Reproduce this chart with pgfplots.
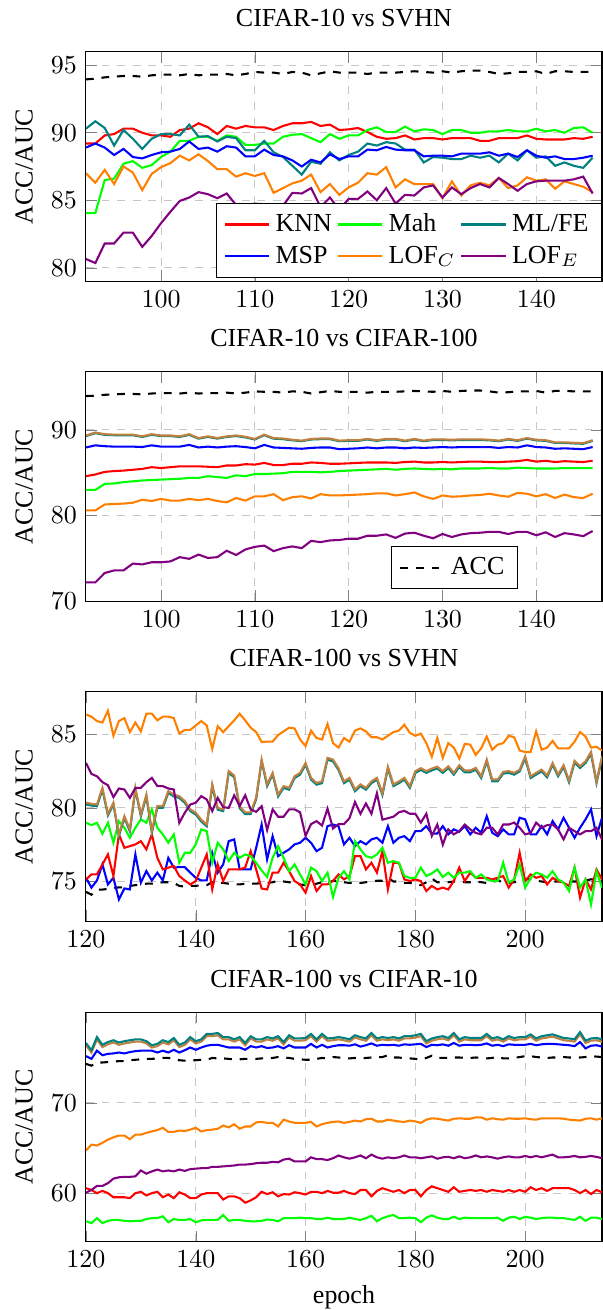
\documentclass[border=0pt]{standalone}
\usepackage{fontspec}
\setmainfont{Liberation Serif}
\usepackage{pgfplots}
\usepackage{pgfplotstable}
\pgfplotsset{compat=1.18}

% CIFAR-10 vs SVHN
\pgfplotstableread{
e acc knn mah mlfe msp lofc lofe
92 93.95 89.2 84.05 90.3 88.9 87.0 80.65
93 94.0 89.2 84.05 90.85 89.2 86.3 80.35
94 94.1 89.8 86.5 90.35 88.9 87.25 81.8
95 94.15 89.9 86.6 89.05 88.35 86.2 81.8
96 94.2 90.3 87.7 90.2 88.8 87.5 82.6
97 94.2 90.3 87.9 89.55 88.2 87.05 82.6
98 94.15 90.0 87.4 88.8 88.1 85.75 81.55
99 94.25 89.8 87.6 89.55 88.35 86.95 82.35
100 94.3 89.8 88.2 89.9 88.55 87.45 83.3
101 94.3 89.7 88.6 89.9 88.6 87.75 84.15
102 94.25 90.2 89.4 89.8 88.8 88.3 84.95
103 94.35 90.3 89.4 90.6 89.35 87.95 85.2
104 94.25 90.7 89.7 89.7 88.8 88.4 85.6
105 94.3 90.4 89.7 89.75 88.9 87.9 85.45
106 94.3 89.9 89.4 89.35 88.6 87.3 85.15
107 94.35 90.5 89.8 89.7 89.0 87.3 85.5
108 94.25 90.3 89.7 89.6 88.9 86.75 84.65
109 94.35 90.5 89.1 88.7 88.25 87.0 84.6
110 94.5 90.4 89.1 88.7 88.25 86.8 84.75
111 94.45 90.4 89.2 89.4 88.75 87.0 84.7
112 94.45 90.2 89.2 88.55 88.35 85.55 84.0
113 94.35 90.5 89.7 88.2 88.25 85.9 84.6
114 94.5 90.7 89.85 87.55 87.95 86.25 85.55
115 94.45 90.7 89.9 86.9 87.5 86.45 85.5
116 94.25 90.8 89.6 87.85 88.0 86.9 85.9
117 94.4 90.5 89.3 87.7 87.8 85.6 84.5
118 94.55 90.6 89.9 88.55 88.4 86.2 85.2
119 94.45 90.2 89.55 87.95 88.05 85.4 84.3
120 94.45 90.25 89.8 88.35 88.25 85.95 85.1
121 94.45 90.35 89.8 88.6 88.25 86.3 85.1
122 94.35 90.05 90.2 89.2 88.75 87.0 85.65
123 94.45 89.7 90.4 89.05 88.7 86.9 85.0
124 94.45 89.55 90.05 89.3 88.95 87.45 85.9
125 94.45 89.6 90.05 89.2 88.75 85.95 84.75
126 94.5 89.8 90.45 88.75 88.7 86.55 85.4
127 94.55 89.5 90.1 88.75 88.7 86.2 85.35
128 94.5 89.6 90.25 87.8 88.25 86.2 85.95
129 94.45 89.6 90.2 88.2 88.3 86.2 86.1
130 94.55 89.5 89.9 88.15 88.3 85.15 85.2
131 94.45 89.6 90.2 88.05 88.25 86.4 85.95
132 94.55 89.6 90.2 88.05 88.45 85.35 85.45
133 94.6 89.6 90.0 88.3 88.45 86.1 85.9
134 94.6 89.4 90.0 88.15 88.45 86.3 86.2
135 94.5 89.4 90.1 88.3 88.55 86.1 85.95
136 94.35 89.6 90.1 87.8 88.3 86.65 86.65
137 94.4 89.6 90.2 88.45 88.45 85.9 86.2
138 94.5 89.6 90.1 87.95 88.2 86.1 85.7
139 94.5 89.8 90.1 88.7 88.7 86.7 86.2
140 94.55 89.55 90.3 88.15 88.3 86.45 86.4
141 94.35 89.5 90.1 88.25 88.15 86.55 86.45
142 94.55 89.5 90.2 87.55 88.25 85.85 86.45
143 94.55 89.5 90.0 87.8 88.05 86.4 86.45
144 94.5 89.6 90.35 87.55 88.05 86.2 86.55
145 94.5 89.55 90.4 87.4 88.15 86.0 86.75
146 94.5 89.7 90.0 88.15 88.3 85.6 85.5
}\tabA

% CIFAR-10 vs CIFAR-100
\pgfplotstableread{
e acc knn mah mlfe fe msp lofc lofe
92 93.95 84.6 83.0 89.28 89.34 87.95 80.6 72.2
93 94.0 84.8 83.0 89.62 89.7 88.2 80.6 72.2
94 94.1 85.1 83.7 89.42 89.5 88.1 81.3 73.3
95 94.15 85.2 83.75 89.38 89.45 88.05 81.35 73.6
96 94.2 85.25 83.9 89.38 89.45 88.05 81.4 73.6
97 94.2 85.35 84.0 89.38 89.45 88.05 81.5 74.4
98 94.15 85.45 84.1 89.18 89.25 88.0 81.85 74.3
99 94.25 85.65 84.15 89.42 89.5 88.2 81.7 74.55
100 94.3 85.55 84.2 89.28 89.35 88.05 81.95 74.55
101 94.3 85.65 84.25 89.28 89.35 88.05 81.75 74.65
102 94.25 85.75 84.3 89.18 89.25 88.05 81.75 75.15
103 94.35 85.75 84.4 89.42 89.5 88.25 81.95 74.95
104 94.25 85.75 84.4 88.98 89.05 87.95 81.8 75.45
105 94.3 85.7 84.6 89.18 89.25 88.05 81.95 75.05
106 94.3 85.65 84.5 88.98 89.05 87.95 81.7 75.15
107 94.35 85.85 84.4 89.18 89.25 88.05 81.55 75.9
108 94.25 85.85 84.7 89.28 89.35 88.1 82.05 75.4
109 94.35 86.0 84.6 89.12 89.2 88.0 81.75 76.05
110 94.5 85.95 84.85 88.88 88.95 87.85 82.25 76.35
111 94.45 86.15 84.85 89.38 89.45 88.25 82.25 76.5
112 94.45 85.9 84.9 88.98 89.05 87.95 82.5 75.85
113 94.35 85.9 84.95 88.92 89.0 87.9 81.8 76.2
114 94.5 86.05 85.1 88.78 88.85 87.85 82.15 76.4
115 94.45 86.05 85.1 88.68 88.75 87.8 82.25 76.2
116 94.25 86.2 85.1 88.88 88.95 87.9 82.0 77.05
117 94.4 86.15 85.05 88.92 89.0 87.95 82.5 76.9
118 94.55 86.05 85.1 88.92 89.0 87.95 82.35 77.1
119 94.45 86.05 85.2 88.68 88.75 87.75 82.35 77.15
120 94.45 86.1 85.25 88.72 88.8 87.8 82.4 77.3
121 94.45 86.15 85.3 88.72 88.8 87.85 82.45 77.3
122 94.35 86.2 85.35 88.88 88.95 87.95 82.5 77.65
123 94.45 86.2 85.4 88.72 88.8 87.85 82.6 77.65
124 94.45 86.2 85.45 88.88 88.95 87.95 82.6 77.8
125 94.45 86.15 85.35 88.88 88.95 87.95 82.35 77.4
126 94.5 86.25 85.45 88.68 88.75 87.85 82.5 77.9
127 94.55 86.3 85.5 88.88 88.95 87.95 82.7 78.0
128 94.5 86.2 85.45 88.68 88.75 87.9 82.25 77.65
129 94.45 86.2 85.4 88.82 88.9 87.95 81.95 77.35
130 94.55 86.25 85.45 88.82 88.9 88.0 82.35 77.85
131 94.45 86.2 85.4 88.78 88.85 87.95 82.2 77.5
132 94.55 86.25 85.5 88.82 88.9 88.0 82.25 77.8
133 94.6 86.3 85.5 88.82 88.9 88.0 82.35 77.95
134 94.6 86.3 85.5 88.82 88.9 88.0 82.4 78.0
135 94.5 86.25 85.55 88.78 88.85 88.0 82.55 78.1
136 94.35 86.25 85.5 88.68 88.75 87.9 82.35 78.1
137 94.4 86.3 85.5 88.88 88.95 88.0 82.2 77.85
138 94.5 86.35 85.6 88.72 88.8 87.95 82.65 78.1
139 94.5 86.5 85.55 88.98 89.05 88.2 82.55 78.1
140 94.55 86.3 85.5 88.78 88.85 88.0 82.25 77.7
141 94.35 86.4 85.5 88.72 88.8 87.95 82.5 78.05
142 94.55 86.25 85.5 88.48 88.55 87.8 82.05 77.5
143 94.55 86.35 85.55 88.48 88.55 87.85 82.45 77.95
144 94.5 86.3 85.55 88.42 88.5 87.8 82.15 77.8
145 94.5 86.25 85.55 88.38 88.45 87.75 82.05 77.6
146 94.5 86.4 85.55 88.72 88.8 88.0 82.55 78.2
}\tabB

% CIFAR-100 vs SVHN
\pgfplotstableread{
e acc knn mah mlfe fe msp lofc lofe
120 74.3 75.14 78.99 80.23 80.35 75.25 86.35 83.06
121 74.1 75.48 78.83 80.16 80.28 74.58 86.2 82.31
122 74.45 75.48 78.99 80.11 80.23 75.07 85.9 82.15
123 74.45 76.16 78.24 81.24 81.36 76.16 85.8 81.75
124 74.5 76.84 78.99 79.48 79.6 74.8 86.6 81.54
125 74.55 75.37 77.63 80.23 80.35 75.25 84.9 80.73
126 74.6 78.2 79.1 78.08 78.2 73.78 85.9 81.32
127 74.6 77.29 78.65 79.32 79.44 74.53 86.1 81.25
128 74.7 77.4 77.97 78.41 78.53 74.46 85.15 80.68
129 74.75 77.52 78.65 81.24 81.36 76.84 85.8 81.36
130 74.8 77.74 79.22 79.43 79.55 74.92 85.2 81.36
131 74.85 77.18 78.99 80.78 80.9 75.71 86.4 81.75
132 74.85 78.2 79.9 78.3 78.42 75.07 86.4 82.04
133 74.9 76.61 78.65 80.0 80.12 75.6 85.95 81.48
134 74.95 75.82 78.2 80.0 80.12 75.07 86.2 81.48
135 74.95 75.94 77.63 81.02 81.14 76.6 86.2 81.32
136 74.9 76.05 78.2 80.78 80.9 75.94 86.1 81.25
137 74.7 75.37 76.27 80.68 80.8 75.98 85.05 78.98
138 74.65 75.07 76.95 80.34 80.46 75.98 85.3 79.67
139 74.7 74.8 76.95 79.78 79.9 75.6 85.3 80.23
140 74.7 75.03 77.52 79.55 79.67 75.25 85.6 80.35
141 74.75 75.94 78.54 79.08 79.2 75.07 85.9 80.8
142 74.75 76.84 78.42 78.75 78.87 75.07 85.6 80.57
143 74.95 74.46 76.27 81.48 81.6 76.95 84.0 79.78
144 74.9 76.16 77.63 79.88 80.0 75.6 85.55 80.68
145 74.9 75.03 77.18 79.78 79.9 76.16 85.15 80.05
146 74.85 75.82 76.39 82.38 82.5 77.74 85.55 80.0
147 74.8 75.82 76.95 82.08 82.2 77.86 85.95 80.86
148 74.8 75.82 76.61 79.98 80.1 75.82 86.4 80.12
149 74.85 75.95 76.84 79.58 79.7 75.82 85.95 80.86
150 74.85 77.06 76.72 79.58 79.7 75.82 85.45 79.9
151 74.85 75.82 76.27 80.58 80.7 77.28 85.15 79.73
152 74.9 74.52 75.75 83.16 83.28 78.87 84.48 80.12
153 74.9 74.46 75.3 81.48 81.6 76.5 84.5 78.5
154 74.95 75.6 76.61 82.26 82.38 78.08 84.5 79.9
155 75.05 75.6 77.4 80.78 80.9 76.72 84.95 79.4
156 75.0 76.27 76.61 81.36 81.48 76.95 85.2 79.4
157 74.95 75.7 75.7 81.24 81.36 77.18 85.45 79.9
158 74.85 75.03 76.16 82.03 82.15 77.52 85.4 79.9
159 74.8 74.8 75.48 82.26 82.38 77.63 84.65 79.7
160 74.75 74.24 74.8 82.93 83.05 77.97 84.2 78.1
161 74.75 75.37 75.94 81.92 82.04 77.63 85.25 78.9
162 74.85 74.35 75.7 81.58 81.7 77.06 84.75 79.1
163 74.95 74.8 75.03 81.68 81.8 77.29 84.65 78.8
164 74.9 74.8 75.6 83.28 83.4 78.76 85.7 79.95
165 75.05 75.03 73.95 83.16 83.28 78.87 84.4 78.6
166 75.0 75.48 75.25 82.58 82.7 78.76 84.1 78.9
167 74.95 75.14 75.7 81.68 81.8 77.52 84.75 78.9
168 74.9 75.37 75.14 81.92 82.04 77.97 84.5 79.3
169 74.95 76.72 77.74 81.13 81.25 77.4 85.25 80.4
170 74.9 76.72 77.18 81.48 81.6 77.74 85.4 79.6
171 74.95 75.82 76.72 81.24 81.36 77.52 85.2 80.3
172 75.0 76.27 76.61 81.68 81.8 77.86 84.8 79.6
173 75.05 75.6 76.84 81.92 82.04 77.97 84.8 81.0
174 75.05 77.06 77.29 80.88 81.0 77.63 84.65 79.2
175 75.25 74.46 76.27 82.68 82.8 78.76 84.9 79.3
176 75.0 76.27 76.39 81.48 81.6 77.63 85.15 79.4
177 75.0 76.27 76.27 81.68 81.8 77.97 85.25 79.7
178 74.9 75.14 75.37 81.92 82.04 78.08 85.65 79.8
179 74.9 75.03 75.25 81.36 81.48 77.74 85.1 79.6
180 74.85 75.14 75.25 82.38 82.5 78.42 84.9 79.6
181 74.75 75.03 75.94 82.58 82.7 78.42 85.05 79.0
182 74.95 74.35 75.37 82.38 82.5 78.76 84.4 79.6
183 75.2 74.7 75.55 82.55 82.67 78.25 83.48 78.1
184 74.95 74.46 75.82 82.68 82.8 78.26 84.75 78.87
185 74.95 74.58 75.3 82.38 82.5 78.76 83.4 77.5
186 74.95 74.46 75.6 82.71 82.83 78.2 84.4 78.54
187 75.0 75.03 75.25 82.26 82.38 78.54 84.1 78.2
188 75.0 75.94 75.6 82.78 82.9 78.38 83.35 78.42
189 74.95 75.03 75.6 82.42 82.54 78.76 84.35 78.87
190 74.95 75.6 75.7 82.42 82.54 78.2 84.3 78.54
191 75.0 75.25 75.25 82.6 82.72 78.65 83.6 78.3
192 74.95 75.25 75.48 82.03 82.15 78.31 84.05 78.2
193 74.9 75.25 75.14 83.16 83.28 79.44 84.85 78.65
194 74.95 75.14 75.03 81.81 81.93 78.31 83.95 78.65
195 75.1 75.25 75.03 81.81 81.93 78.08 84.3 78.2
196 74.9 75.37 76.27 82.33 82.45 78.54 84.4 78.87
197 74.9 74.58 74.92 82.38 82.5 78.2 84.9 78.87
198 74.95 75.14 75.14 82.26 82.38 78.2 84.8 79.0
199 75.05 76.95 76.16 82.48 82.6 79.33 83.9 78.65
200 75.15 75.03 74.58 83.38 83.5 79.22 83.8 78.2
201 75.15 75.48 75.25 82.03 82.15 78.2 83.8 78.3
202 75.05 75.25 75.6 82.26 82.38 78.2 85.2 79.0
203 75.0 75.37 75.48 82.48 82.6 78.76 83.95 78.65
204 74.95 74.8 75.25 82.08 82.2 78.2 84.1 78.83
205 75.0 75.25 75.7 82.93 83.05 79.1 84.55 78.87
206 75.0 75.03 75.14 82.15 82.27 78.54 84.05 78.54
207 75.05 74.92 74.92 82.78 82.9 79.33 84.05 77.86
208 75.0 74.69 74.35 81.74 81.86 78.65 84.05 78.65
209 75.0 75.94 75.94 83.08 83.2 77.97 84.5 78.42
210 75.0 73.9 74.58 82.71 82.83 78.65 85.15 78.2
211 75.05 75.14 75.14 83.05 83.17 79.22 84.85 78.42
212 75.15 74.46 73.44 83.68 83.8 79.9 84.1 78.42
213 75.1 75.82 75.7 81.68 81.8 78.08 84.15 78.65
214 75.05 75.14 74.58 83.38 83.5 79.33 83.9 77.86
}\tabC

% CIFAR-100 vs CIFAR-10
\pgfplotstableread{
e acc knn mah mlfe fe msp lofc lofe
120 74.3 60.6 56.95 76.6 76.35 75.15 64.75 60.1
121 74.1 60.4 56.75 75.8 75.55 74.85 65.4 60.4
122 74.45 60.05 57.3 77.25 77.0 75.75 65.3 60.85
123 74.45 60.3 56.75 76.4 76.15 75.25 65.6 60.85
124 74.5 60.05 57.0 76.7 76.45 75.4 65.95 61.15
125 74.55 59.6 57.1 76.9 76.65 75.45 66.2 61.65
126 74.6 59.6 57.1 76.65 76.4 75.55 66.4 61.8
127 74.6 59.6 57.0 76.8 76.55 75.45 66.4 61.85
128 74.7 59.5 56.95 76.9 76.65 75.6 66.0 61.85
129 74.75 60.05 57.0 77.0 76.75 75.7 66.5 61.9
130 74.8 60.2 57.0 77.0 76.75 75.75 66.5 62.55
131 74.85 59.8 57.2 76.8 76.55 75.75 66.7 62.2
132 74.85 60.05 57.3 76.35 76.1 75.75 66.85 62.45
133 74.9 60.2 57.3 76.5 76.25 75.55 67.0 62.65
134 74.95 59.6 57.5 76.9 76.65 75.75 67.25 62.45
135 74.95 59.9 56.85 76.7 76.45 75.55 66.8 62.55
136 74.9 59.5 57.2 77.15 76.9 75.85 66.8 62.45
137 74.7 60.15 57.1 76.4 76.15 75.55 66.95 62.65
138 74.65 59.9 57.1 76.65 76.4 75.8 66.9 62.5
139 74.7 59.5 57.2 77.25 77.0 76.1 67.05 62.7
140 74.7 59.5 56.85 76.8 76.55 75.85 67.25 62.75
141 74.75 59.9 57.05 77.0 76.75 76.1 66.85 62.8
142 74.75 60.05 57.1 77.6 77.35 76.3 67.0 62.8
143 74.95 60.05 57.1 77.6 77.35 76.4 67.05 62.95
144 74.9 60.05 57.1 77.7 77.45 76.4 67.15 62.95
145 74.9 59.35 57.65 77.25 77.0 76.25 67.5 63.0
146 74.85 59.7 57.0 77.25 77.0 76.1 67.3 63.05
147 74.8 59.7 57.1 77.0 76.75 76.1 67.65 63.1
148 74.8 59.5 57.1 77.25 77.0 76.1 67.15 63.2
149 74.85 59.0 57.0 76.6 76.35 75.85 67.4 63.2
150 74.85 59.25 56.95 77.35 77.1 76.25 67.4 63.25
151 74.85 59.6 56.95 77.0 76.75 76.1 67.85 63.35
152 74.9 60.2 57.0 77.0 76.75 76.25 67.9 63.4
153 74.9 59.95 57.15 77.25 77.0 76.05 67.8 63.4
154 74.95 60.15 57.1 77.1 76.85 76.1 67.8 63.5
155 75.05 59.7 56.95 77.35 77.1 76.25 67.4 63.45
156 75.0 59.95 57.3 76.7 76.45 76.0 68.15 63.75
157 74.95 59.9 57.3 77.45 77.2 76.35 67.95 63.85
158 74.85 60.15 57.3 77.1 76.85 76.1 67.8 63.55
159 74.8 60.05 57.35 77.1 76.85 76.1 67.8 63.55
160 74.75 59.9 57.3 77.15 76.9 76.1 67.8 63.55
161 74.75 60.2 57.3 77.6 77.35 76.5 67.9 64.0
162 74.85 60.2 57.2 77.0 76.75 76.1 67.4 63.8
163 74.95 60.05 57.2 77.6 77.35 76.4 67.65 63.8
164 74.9 60.3 57.35 77.1 76.85 76.1 67.8 63.7
165 75.05 60.1 57.2 77.15 76.9 76.25 67.9 63.9
166 75.0 60.1 57.2 77.25 77.0 76.35 67.95 64.2
167 74.95 60.3 57.2 77.15 76.9 76.35 67.8 64.0
168 74.9 60.05 57.35 77.0 76.75 76.3 67.9 63.85
169 74.95 59.95 57.2 77.45 77.2 76.45 68.05 64.0
170 74.9 60.4 57.1 77.25 77.0 76.2 67.95 64.2
171 74.95 60.4 57.3 77.1 76.85 76.35 68.2 63.9
172 75.0 59.7 57.55 77.7 77.45 76.55 68.25 64.3
173 75.05 60.3 56.95 77.1 76.85 76.3 67.95 64.0
174 75.05 60.6 57.3 77.25 77.0 76.4 67.95 63.85
175 75.25 60.4 57.5 77.15 76.9 76.35 68.15 64.0
176 75.0 60.2 57.65 77.25 77.0 76.4 68.05 63.9
177 75.0 60.4 57.3 77.1 76.85 76.3 67.95 64.0
178 74.9 60.05 57.3 77.35 77.1 76.45 67.9 64.2
179 74.9 60.4 57.35 77.35 77.1 76.4 68.05 64.0
180 74.85 60.4 57.3 77.45 77.2 76.45 67.95 64.0
181 74.75 59.7 56.85 77.6 77.35 76.5 67.8 63.9
182 74.95 60.4 57.35 76.8 76.55 76.15 68.15 64.0
183 75.2 60.8 57.6 77.1 76.85 76.4 68.3 64.1
184 74.95 60.6 57.35 77.25 77.0 76.35 68.25 63.85
185 74.95 60.4 57.2 77.35 77.1 76.45 68.15 64.0
186 74.95 60.2 57.2 77.15 76.9 76.3 68.05 64.05
187 75.0 60.7 57.45 77.7 77.45 76.6 68.25 63.9
188 75.0 60.2 57.2 77.0 76.75 76.3 68.3 64.1
189 74.95 60.3 57.35 77.25 77.0 76.4 68.25 63.9
190 74.95 60.4 57.3 77.15 76.9 76.4 68.25 64.0
191 75.0 60.3 57.3 77.15 76.9 76.35 68.4 64.2
192 74.95 60.4 57.3 77.15 76.9 76.4 68.4 64.0
193 74.9 60.2 57.3 77.6 77.35 76.55 68.15 64.1
194 74.95 60.4 57.3 77.1 76.85 76.3 68.3 64.0
195 75.1 60.3 57.35 77.25 77.0 76.4 68.2 63.85
196 74.9 60.2 57.0 77.0 76.75 76.25 68.15 64.0
197 74.9 60.4 57.35 77.35 77.1 76.45 68.3 64.1
198 74.95 60.2 57.45 77.15 76.9 76.4 68.25 64.0
199 75.05 60.4 57.2 77.25 77.0 76.4 68.25 64.0
200 75.15 60.2 57.45 77.25 77.0 76.4 68.3 64.15
201 75.15 60.7 57.35 77.55 77.3 76.5 68.2 64.0
202 75.05 60.4 57.2 77.1 76.85 76.35 68.15 64.15
203 75.0 60.6 57.3 77.35 77.1 76.45 68.3 64.0
204 74.95 60.3 57.35 77.45 77.2 76.5 68.3 64.15
205 75.0 60.6 57.35 77.55 77.3 76.5 68.3 64.3
206 75.0 60.6 57.3 77.35 77.1 76.45 68.3 64.0
207 75.05 60.6 57.3 77.15 76.9 76.4 68.25 64.0
208 75.0 60.6 57.2 77.1 76.85 76.35 68.15 64.05
209 75.0 60.4 57.1 77.0 76.75 76.25 68.1 64.15
210 75.0 60.05 57.45 77.8 77.55 76.7 68.05 64.0
211 75.05 60.4 57.0 76.85 76.6 76.0 68.25 64.05
212 75.15 59.95 57.35 77.1 76.85 76.3 68.3 64.15
213 75.1 60.4 57.35 77.15 76.9 76.35 68.15 64.05
214 75.05 60.15 57.2 77.0 76.75 76.2 68.3 63.9
}\tabD

\pgfplotsset{
  epochpanel/.style={
    width=198.7pt, height=88.4pt, scale only axis,
    anchor=north west,
    grid=major,
    major grid style={dashed, black!22},
    ylabel={ACC/AUC},
    every axis plot/.append style={thick, no markers},
    legend cell align=left,
  },
}

\begin{document}
\begin{tikzpicture}
\path[use as bounding box] (0pt,0pt) rectangle (231.8pt,-504.4pt);

% ---- CIFAR-10 vs SVHN -------------------------------------------
\begin{axis}[epochpanel, at={(33.1pt,-19.9pt)},
  title={CIFAR-10 vs SVHN},
  xmin=92, xmax=147, ymin=79, ymax=96,
  xtick={100,110,120,130,140}, ytick={80,85,90,95},
  legend columns=3,
  legend style={at={(1,0.015)}, anchor=south east,
    /tikz/every even column/.append style={column sep=0pt}}]
\addplot[black, dashed, forget plot] table[x=e, y=acc] {\tabA};
\addplot[red] table[x=e, y=knn] {\tabA};
\addplot[green] table[x=e, y=mah] {\tabA};
\addplot[teal] table[x=e, y=mlfe] {\tabA};
\addplot[blue] table[x=e, y=msp] {\tabA};
\addplot[orange] table[x=e, y=lofc] {\tabA};
\addplot[violet] table[x=e, y=lofe] {\tabA};
\legend{KNN, Mah, ML/FE, MSP, LOF$_C$, LOF$_E$}
\end{axis}

% ---- CIFAR-10 vs CIFAR-100 --------------------------------------
\begin{axis}[epochpanel, at={(33.1pt,-143.1pt)},
  title={CIFAR-10 vs CIFAR-100},
  xmin=92, xmax=147, ymin=70, ymax=96.8,
  xtick={100,110,120,130,140}, ytick={70,80,90},
  legend style={at={(0.837,0.052)}, anchor=south east}]
\addplot[black, dashed] table[x=e, y=acc] {\tabB};
\addlegendentry{ACC}
\addplot[red] table[x=e, y=knn] {\tabB};
\addplot[green] table[x=e, y=mah] {\tabB};
\addplot[teal] table[x=e, y=mlfe] {\tabB};
\addplot[brown] table[x=e, y=fe] {\tabB};
\addplot[blue] table[x=e, y=msp] {\tabB};
\addplot[orange] table[x=e, y=lofc] {\tabB};
\addplot[violet] table[x=e, y=lofe] {\tabB};
\end{axis}

% ---- CIFAR-100 vs SVHN ------------------------------------------
\begin{axis}[epochpanel, at={(33.1pt,-266.3pt)},
  title={CIFAR-100 vs SVHN},
  xmin=120, xmax=214, ymin=72.3, ymax=87.9,
  xtick={120,140,160,180,200}, ytick={75,80,85}]
\addplot[black, dashed] table[x=e, y=acc] {\tabC};
\addplot[blue] table[x=e, y=msp] {\tabC};
\addplot[red] table[x=e, y=knn] {\tabC};
\addplot[green] table[x=e, y=mah] {\tabC};
\addplot[teal] table[x=e, y=mlfe] {\tabC};
\addplot[brown] table[x=e, y=fe] {\tabC};
\addplot[orange] table[x=e, y=lofc] {\tabC};
\addplot[violet] table[x=e, y=lofe] {\tabC};
\end{axis}

% ---- CIFAR-100 vs CIFAR-10 --------------------------------------
\begin{axis}[epochpanel, at={(33.1pt,-389.7pt)},
  title={CIFAR-100 vs CIFAR-10},
  xlabel={epoch},
  xmin=120, xmax=214, ymin=54.7, ymax=80,
  xtick={120,140,160,180,200}, ytick={60,70}]
\addplot[black, dashed] table[x=e, y=acc] {\tabD};
\addplot[red] table[x=e, y=knn] {\tabD};
\addplot[green] table[x=e, y=mah] {\tabD};
\addplot[brown] table[x=e, y=fe] {\tabD};
\addplot[teal] table[x=e, y=mlfe] {\tabD};
\addplot[blue] table[x=e, y=msp] {\tabD};
\addplot[orange] table[x=e, y=lofc] {\tabD};
\addplot[violet] table[x=e, y=lofe] {\tabD};
\end{axis}
\end{tikzpicture}
\end{document}
